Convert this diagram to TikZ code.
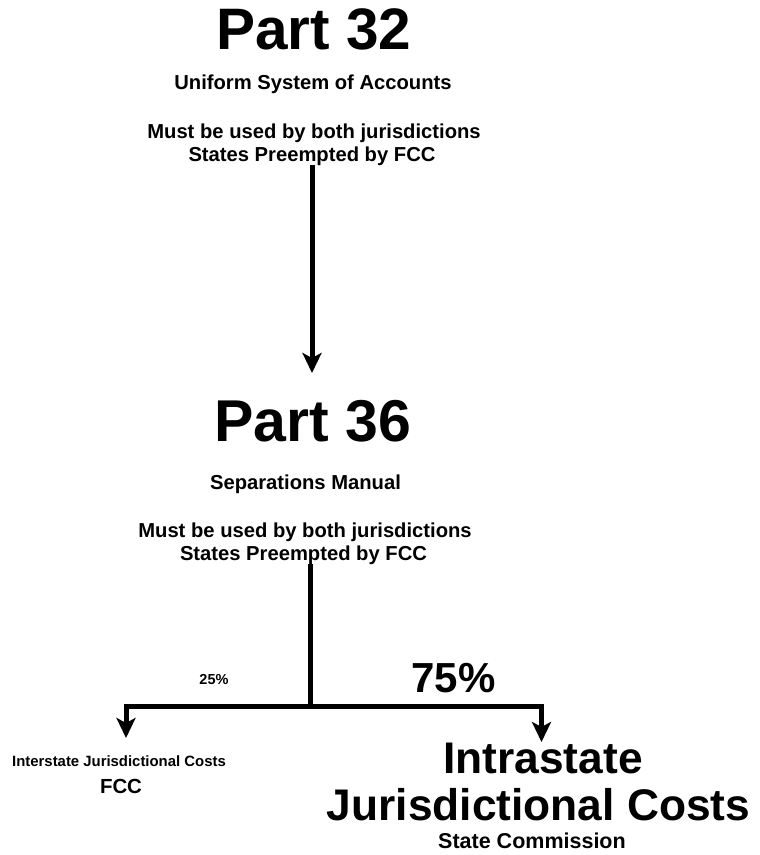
\documentclass[tikz,border=0pt]{standalone}
\usepackage{fontspec}
\setmainfont{Liberation Sans}
\usetikzlibrary{arrows.meta}
\begin{document}
\begin{tikzpicture}[x=1pt,y=1pt,
  txt/.style={anchor=base,inner sep=0pt,font=\bfseries},
  conn/.style={line width=5pt,line join=miter,line cap=butt},
  tip/.style={-{Stealth[length=20pt,width=19pt,inset=5pt]}}]
\useasboundingbox (0,0) rectangle (760,-855);
% block 1
\node[txt,font=\bfseries\fontsize{58.5}{60}\selectfont] (p32) at (314,-49) {Part 32};
\node[txt,font=\bfseries\fontsize{20.2}{23}\selectfont] (usoa) at (313,-89) {Uniform System of Accounts};
\node[txt,font=\bfseries\fontsize{20.2}{23}\selectfont] (m1a) at (314,-138) {Must be used by both jurisdictions};
\node[txt,font=\bfseries\fontsize{20.2}{23}\selectfont] (m1b) at (312,-161) {States Preempted by FCC};
% block 2
\node[txt,font=\bfseries\fontsize{59}{60}\selectfont] (p36) at (313,-441) {Part 36};
\node[txt,font=\bfseries\fontsize{20.2}{23}\selectfont] (sep) at (305.5,-489) {Separations Manual};
\node[txt,font=\bfseries\fontsize{20.2}{23}\selectfont] (m2a) at (305,-537) {Must be used by both jurisdictions};
\node[txt,font=\bfseries\fontsize{20.2}{23}\selectfont] (m2b) at (303.5,-560) {States Preempted by FCC};
% arrow 1
\coordinate (a1s) at (312,-165);
\coordinate (a1e) at (312,-373);
\draw[conn,tip] (a1s) -- (a1e);
% split
\coordinate (top2) at (310,-564);
\coordinate (split) at (310,-706);
\coordinate (ltip) at (126,-738);
\coordinate (rtip) at (541.5,-742);
\draw[conn] (top2) -- (split);
\draw[conn,tip] ([xshift=2.5pt]split) -| (ltip);
\draw[conn,tip] ([xshift=-2.5pt]split) -| (rtip);
% labels
\node[txt,font=\bfseries\fontsize{14.5}{16}\selectfont] (p25) at (214,-684) {25\%};
\node[txt,font=\bfseries\fontsize{42}{44}\selectfont] (p75) at (453.5,-692) {75\%};
\node[txt,font=\bfseries\fontsize{14.9}{16}\selectfont] (inter) at (119,-766) {Interstate Jurisdictional Costs};
\node[txt,font=\bfseries\fontsize{20.4}{22}\selectfont] (fcc) at (121,-793) {FCC};
\node[txt,font=\bfseries\fontsize{44.3}{47}\selectfont] (intra1) at (543,-773) {Intrastate};
\node[txt,font=\bfseries\fontsize{44.3}{47}\selectfont] (intra2) at (538.5,-820) {Jurisdictional Costs};
\node[txt,font=\bfseries\fontsize{21.5}{23}\selectfont] (stc) at (532,-848) {State Commission};
\end{tikzpicture}
\end{document}
